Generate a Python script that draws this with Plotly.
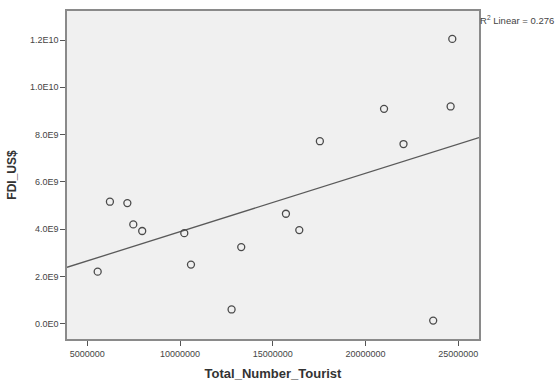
import numpy as np
import plotly.graph_objects as go

# Data
tourists = [5.56e6, 6.22e6, 7.16e6, 7.48e6, 7.96e6, 10.23e6, 10.59e6, 12.78e6, 13.30e6,
            15.71e6, 16.43e6, 17.54e6, 21.00e6, 22.05e6, 23.65e6, 24.59e6, 24.68e6]
fdi = [2.20e9, 5.16e9, 5.10e9, 4.20e9, 3.92e9, 3.83e9, 2.50e9, 0.60e9, 3.24e9,
       4.65e9, 3.96e9, 7.72e9, 9.09e9, 7.60e9, 0.13e9, 9.19e9, 12.05e9]

x_tickvals = [5000000, 10000000, 15000000, 20000000, 25000000]
x_ticktext = ["5000000", "10000000", "15000000", "20000000", "25000000"]
y_tickvals = [0, 2e9, 4e9, 6e9, 8e9, 1.0e10, 1.2e10]
y_ticktext = ["0.0E0", "2.0E9", "4.0E9", "6.0E9", "8.0E9", "1.0E10", "1.2E10"]
r2_label = "R<sup>2</sup> Linear = 0.276"

x_range = [3.906e6, 26.12e6]
y_range = [-0.65e9, 13.23e9]

# Linear fit from the data
slope, intercept = np.polyfit(tourists, fdi, 1)
fit_x = np.array(x_range)
fit_y = slope * fit_x + intercept

FONT = "Liberation Sans, Arial, sans-serif"

fig = go.Figure()
fig.add_trace(go.Scatter(
    x=fit_x, y=fit_y, mode="lines",
    line=dict(color="#5a5a5a", width=1.3),
    hoverinfo="skip", showlegend=False,
))
fig.add_trace(go.Scatter(
    x=tourists, y=fdi, mode="markers",
    marker=dict(symbol="circle-open", size=7, color="#4a4a4a", line=dict(width=1.3)),
    showlegend=False,
))

axis_common = dict(
    showgrid=False, zeroline=False,
    showline=True, linecolor="#8a8a8a", linewidth=1.5, mirror=True,
    ticks="outside", ticklen=5, tickcolor="#555555", tickwidth=1,
    tickfont=dict(family=FONT, size=9, color="#444444"),
)

fig.update_xaxes(
    range=x_range, tickmode="array", tickvals=x_tickvals, ticktext=x_ticktext,
    title=dict(text="<b>Total_Number_Tourist</b>", standoff=11,
               font=dict(family=FONT, size=13, color="#333333")),
    **axis_common,
)
fig.update_yaxes(
    range=y_range, tickmode="array", tickvals=y_tickvals, ticktext=y_ticktext,
    title=dict(text="<b>FDI_US$</b>", standoff=11,
               font=dict(family=FONT, size=12, color="#333333")),
    **axis_common,
)

fig.add_annotation(
    text=r2_label, xref="paper", yref="paper", x=1.0, y=1.0,
    xanchor="left", yanchor="top", xshift=-1, yshift=-1, showarrow=False,
    font=dict(family=FONT, size=9.5, color="#444444"),
)

fig.update_layout(
    width=555, height=388,
    margin=dict(l=67, r=76, t=9, b=38),
    plot_bgcolor="#f0f0f0", paper_bgcolor="#ffffff",
    showlegend=False,
)

fig.write_html("out.html", config={"displayModeBar": False},
               post_script="document.body.style.margin='0';document.body.style.overflow='hidden';")
